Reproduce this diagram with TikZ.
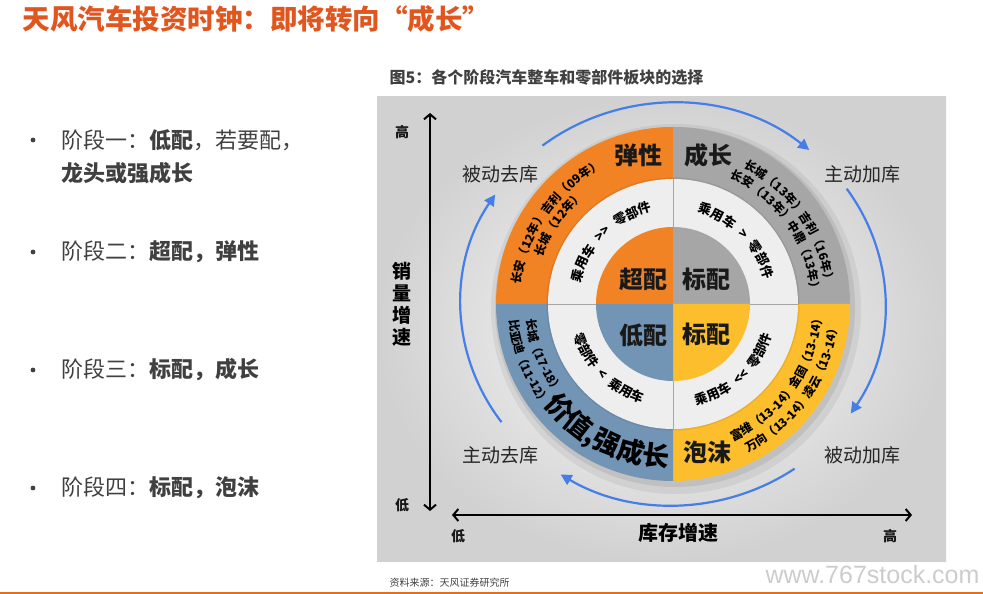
\documentclass[tikz,border=0pt]{standalone}
\usepackage{fontspec}
\setmainfont{Noto Sans CJK SC}
\newfontfamily\wmfont{Liberation Sans}
\usetikzlibrary{arrows.meta,decorations.text}
\definecolor{tfRed}{RGB}{224,86,30}
\definecolor{tfText}{RGB}{64,64,64}
\definecolor{tfOrange}{RGB}{242,131,36}
\definecolor{tfGray}{RGB}{166,166,166}
\definecolor{tfYellow}{RGB}{253,190,45}
\definecolor{tfBlue}{RGB}{115,149,181}
\definecolor{ringWhite}{RGB}{238,238,238}
\definecolor{arcBlue}{RGB}{68,126,230}
\begin{document}
\begin{tikzpicture}[x=1pt,y=1pt,
  point/.style={anchor=west,text=tfText,font=\fontsize{22}{22}\selectfont},
  quad/.style={font=\bfseries\fontsize{24}{24}\selectfont,text=black!90},
  side/.style={font=\fontsize{19}{19}\selectfont,text=black!85},
  axislabel/.style={font=\bfseries\fontsize{14}{14}\selectfont,text=black!90},
  axisline/.style={line width=2pt,{Straight Barb[length=5pt,width=12pt]}-{Straight Barb[length=5pt,width=12pt]}},
  cycleArc/.style={line width=2.2pt,color=arcBlue,-{Triangle[length=11pt,width=11pt]}},
]
    \newcommand{\ringText}[5]{% size, radius, from, to, text
        \path[decorate,decoration={text along path,text align=center,
          text={|\bfseries\fontsize{#1}{#1}\selectfont|#5}}]
          (wc) ++(#3:#2) arc (#3:#4:#2);
    }
\useasboundingbox (0,0) rectangle (983,594);

% page
\node[anchor=west,text=tfRed,font=\bfseries\fontsize{27.5}{27.5}\selectfont] (title) at (19,575) {天风汽车投资时钟：即将转向“成长”};

\foreach \y/\n/\t in {454/one/{阶段一：\textbf{低配}，若要配，},
                     342/two/{阶段二：\textbf{超配，弹性}},
                     224/three/{阶段三：\textbf{标配，成长}},
                     106/four/{阶段四：\textbf{标配，泡沫}}}{
    \fill[tfText] (33,\y) circle (2.4);
    \node[point] (\n) at (58,\y) {\t};
}
\node[point,font=\bfseries\fontsize{22}{22}\selectfont] (oneb) at (58,421) {龙头或强成长};

\node[anchor=west,text=tfText,font=\bfseries\fontsize{16}{16}\selectfont] (caption) at (386,517) {图5：各个阶段汽车整车和零部件板块的选择};
\node[anchor=west,text=tfText,font=\fontsize{10}{10}\selectfont] (source) at (386,11) {资料来源：天风证券研究所};
\node[anchor=east,text=black!20,font=\wmfont\fontsize{25}{25}\selectfont] (mark) at (983,19) {www.767stock.com};
\draw[tfRed!85!yellow,line width=2pt] (0,1) -- (983,1);

% chart
\shade[inner color=gray!4,outer color=gray!36] (377,32) rectangle (946,497);

\coordinate (ytop) at (430,481);
\coordinate (ybot) at (430,83);
\coordinate (xl) at (452,79);
\coordinate (xr) at (912,79);
\draw[axisline] (ybot) -- (ytop);
\draw[axisline] (xl) -- (xr);
\node[axislabel] (yhigh) at (402,462) {高};
\node[axislabel] (ylow) at (402,89) {低};
\node[align=center,font=\bfseries\fontsize{19}{22}\selectfont] (ytitle) at (402,290) {销\\量\\增\\速};
\node[axislabel] (xlow) at (458,58) {低};
\node[axislabel] (xhigh) at (890,58) {高};
\node[font=\bfseries\fontsize{20}{20}\selectfont] (xtitle) at (678,61) {库存增速};

\coordinate (wc) at (673,290);
\fill[black,opacity=0.06] (wc) ++(3,-5) circle (185);
\fill[black,opacity=0.08] (wc) ++(2,-3) circle (180);
\foreach \a/\c in {90/tfOrange,0/tfGray,270/tfYellow,180/tfBlue}
    \fill[\c] (wc) -- ++(\a:177) arc (\a:\a+90:177) -- cycle;
\fill[black,opacity=0.08] (wc) circle (126.5);
\fill[ringWhite] (wc) circle (125);
\draw[gray!70,line width=0.7pt] (wc) ++(-125,0) -- ++(250,0);
\draw[gray!70,line width=0.7pt] (wc) ++(0,-125) -- ++(0,250);
\foreach \a/\c in {90/tfOrange,0/tfGray,270/tfYellow,180/tfBlue}
    \fill[\c] (wc) -- ++(\a:77) arc (\a:\a+90:77) -- cycle;

\node[quad] (tan) at (638,439) {弹性};
\node[quad] (grow) at (708,439) {成长};
\node[quad] (foam) at (707,142) {泡沫};
\node[quad] (over) at (643,315) {超配};
\node[quad] (stdA) at (706,315) {标配};
\node[quad] (under) at (643,259) {低配};
\node[quad] (stdB) at (706,260) {标配};

% ring texts, top half clockwise, bottom half counter-clockwise
\ringText{12}{153.5}{195}{95}{长安（12年）吉利（09年）}
\ringText{12}{138.5}{195}{95}{长城（12年）}
\ringText{12}{153.5}{85}{-15}{长城（13年）吉利（16年）}
\ringText{12}{138.5}{85}{-15}{长安（13年）中鼎（13年）}
\ringText{12}{149.5}{275}{375}{富维（13-14）金固（13-14）}
\ringText{12}{166.5}{275}{375}{万向（13-14）凌云（13-14）}
\ringText{12}{147.5}{162}{242}{长城（17-18）}
\ringText{12}{164.5}{162}{242}{比亚迪（11-12）}
\ringText{27}{163.5}{190}{296}{价值,强成长}
\ringText{13}{95}{195}{75}{乘用车{\hskip7pt}>>{\hskip7pt}零部件}
\ringText{13}{95}{105}{-15}{乘用车{\hskip7pt}>{\hskip7pt}零部件}
\ringText{13}{104}{165}{285}{零部件{\hskip7pt}<{\hskip7pt}乘用车}
\ringText{13}{104}{253}{373}{乘用车{\hskip7pt}<<{\hskip7pt}零部件}

\draw[cycleArc] (wc) ++(128:212 and 201) arc (128:50:212 and 201);
\draw[cycleArc] (wc) ++(35:212 and 201) arc (35:-33:212 and 201);
\draw[cycleArc] (wc) ++(-55:212 and 201) arc (-55:-122:212 and 201);
\draw[cycleArc] (wc) ++(-144:212 and 201) arc (-144:-213:212 and 201);

\node[side] (pasDe) at (500,420) {被动去库};
\node[side] (actAdd) at (862,420) {主动加库};
\node[side] (actDe) at (500,139) {主动去库};
\node[side] (pasAdd) at (862,139) {被动加库};

\end{tikzpicture}
\end{document}
